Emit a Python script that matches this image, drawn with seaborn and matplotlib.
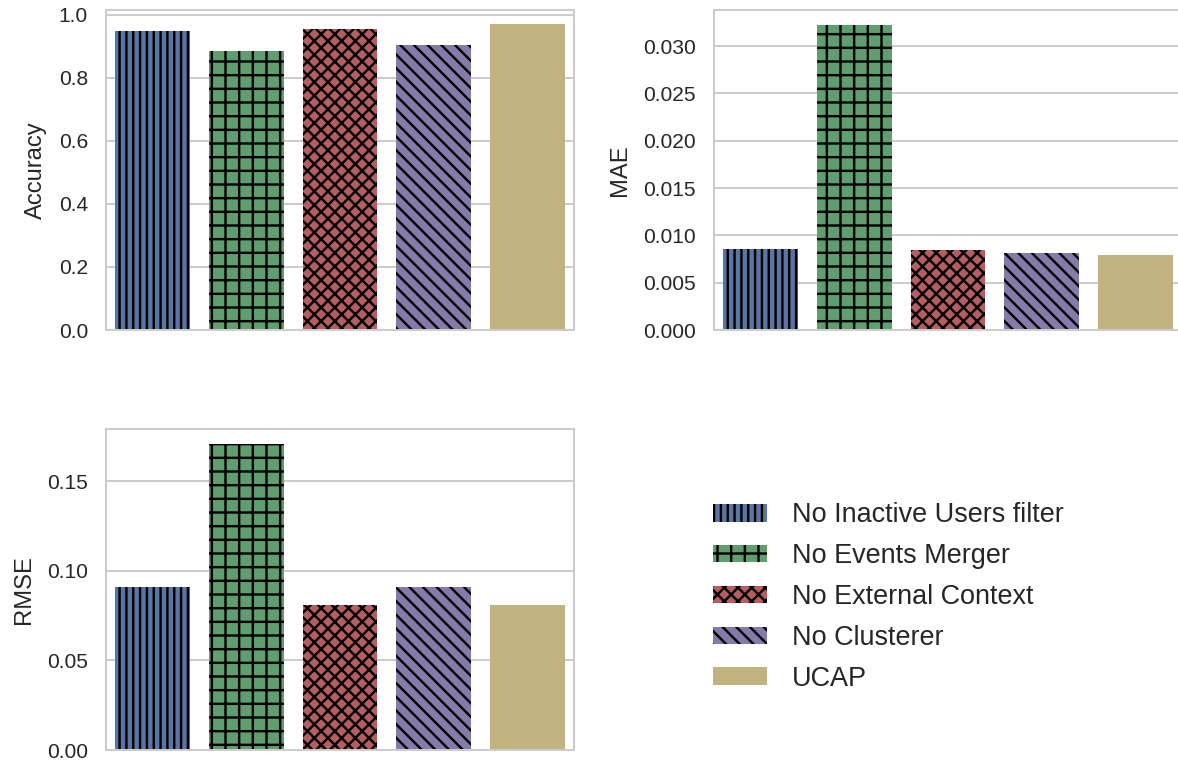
import matplotlib
matplotlib.use("Agg")
import matplotlib.pyplot as plt
from matplotlib.patches import Patch
import seaborn as sns
import pandas as pd

variants = ["No Inactive Users filter", "No Events Merger", "No External Context",
            "No Clusterer", "UCAP"]
accuracy = [0.949, 0.884, 0.956, 0.905, 0.971]
mae = [0.0086, 0.0322, 0.0084, 0.00815, 0.0079]
rmse = [0.091, 0.1705, 0.081, 0.091, 0.081]

base_colors = ["#4C72B0", "#55A868", "#C44E52", "#8172B2", "#CCB974"]
hatches = ["||", "+", "xx", "\\\\", ""]
SAT = 0.75
colors = [sns.desaturate(c, SAT) for c in base_colors]

# Render resolution; sizes below are given in pixels and converted to points
DPI = 82
W, H = 1178, 765


def pt(px):
    return px * 72.0 / DPI


sns.set_theme(style="whitegrid")
plt.rcParams.update({
    "font.family": ["Liberation Sans", "DejaVu Sans"],
    "axes.edgecolor": "#cccccc",
    "grid.color": "#cccccc",
    "axes.linewidth": pt(2.0),
    "grid.linewidth": pt(2.0),
    "hatch.linewidth": pt(2.4),
    "text.color": "#262626",
    "axes.labelcolor": "#262626",
    "ytick.color": "#262626",
})

df = pd.DataFrame({"variant": variants, "Accuracy": accuracy, "MAE": mae, "RMSE": rmse})

fig = plt.figure(figsize=(W / DPI, H / DPI), dpi=DPI)


def px_axes(x0, y0, x1, y1):
    return fig.add_axes([x0 / W, 1 - y1 / H, (x1 - x0) / W, (y1 - y0) / H])


ax_acc = px_axes(106, 10, 574, 330)
ax_mae = px_axes(714, 10, 1182, 330)
ax_rmse = px_axes(106, 429, 574, 750)


def draw(ax, metric):
    sns.barplot(data=df, x="variant", y=metric, hue="variant", order=variants,
                hue_order=variants, palette=base_colors, saturation=SAT, legend=False,
                width=0.8, ax=ax)
    for cont, h in zip(ax.containers, hatches):
        for bar in cont:
            bar.set_hatch(h)
            bar.set_edgecolor("black")
            bar.set_linewidth(0)
    ax.set_xlabel("")
    ax.set_xticks([])
    ax.set_ylabel(metric, fontsize=pt(23.8), labelpad=pt(12))
    ax.tick_params(axis="y", labelsize=pt(21), length=0, pad=pt(18))
    ax.grid(axis="x", visible=False)
    for s in ax.spines.values():
        s.set_color("#cccccc")


draw(ax_acc, "Accuracy")
ax_acc.set_ylim(0, 1.015)
ax_acc.set_yticks([0.0, 0.2, 0.4, 0.6, 0.8, 1.0])
draw(ax_mae, "MAE")
ax_mae.set_yticks([0.0, 0.005, 0.01, 0.015, 0.02, 0.025, 0.03])
ax_mae.set_yticklabels([f"{v:.3f}" for v in ax_mae.get_yticks()])
draw(ax_rmse, "RMSE")
ax_rmse.set_yticks([0.0, 0.05, 0.10, 0.15])
ax_rmse.set_yticklabels([f"{v:.2f}" for v in ax_rmse.get_yticks()])

handles = [Patch(facecolor=c, hatch=h, edgecolor="black", linewidth=0)
           for c, h in zip(colors, hatches)]
fig.legend(handles, variants, loc="upper left", bbox_to_anchor=(689 / W, 1 - 478 / H),
           frameon=False, fontsize=pt(27), labelspacing=0.55, handlelength=2.0,
           handleheight=0.62, handletextpad=0.9, borderpad=0.4)

fig.savefig("out.png", dpi=DPI)
